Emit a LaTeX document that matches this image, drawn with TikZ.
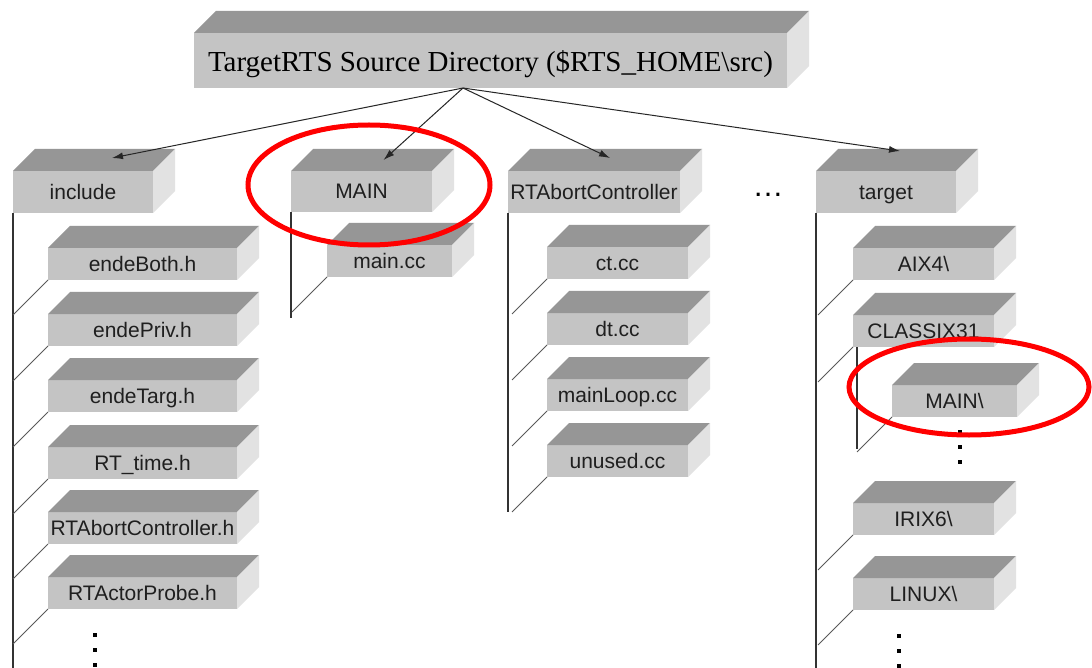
\documentclass[tikz,border=0pt]{standalone}
\usepackage{fontspec}
\setmainfont{Liberation Sans}
\newfontfamily\titolofont{Liberation Serif}
\usetikzlibrary{arrows.meta}

\definecolor{grigiofronte}{HTML}{C4C4C4}
\definecolor{grigiosopra}{HTML}{969696}
\definecolor{grigiolato}{HTML}{E2E2E2}

\tikzset{
  fronte/.style={fill=grigiofronte, inner sep=0pt, outer sep=0pt, text=black!88,
    text height=19pt, text depth=4pt, font=\fontsize{21}{21}\selectfont},
  sopra/.style={fill=grigiosopra},
  lato/.style={fill=grigiolato},
  albero/.style={draw=black!80, line width=1.1pt},
  ramo/.style={draw=black!65, line width=0.9pt},
  freccia/.style={draw=black!85, line width=1pt, -{Latex[length=11pt,width=7pt]}},
  evidenzia/.style={draw=red, line width=5pt}
}

\begin{document}
\begin{tikzpicture}[x=1pt,y=-1pt]

\fill[white] (0,0) rectangle (1092,668);
\useasboundingbox (0,0) rectangle (1092,668);

% cartella: nome, x, y, larghezza, altezza, testo
\def\cartella#1#2#3#4#5#6{
\node[fronte, minimum width=#4pt, minimum height=#5pt] (#1) at (#2+#4/2,#3+#5/2) {#6};
\fill[sopra] (#1.north west) -- ++(22,-22) -- ++(#4,0) -- (#1.north east) -- cycle;
\fill[lato] (#1.north east) -- ++(22,-22) -- ++(0,#5) -- (#1.south east) -- cycle;}

%radice
\cartella{src}{194}{33}{593}{55}{}
\node[font=\titolofont\fontsize{29}{29}\selectfont, text height=22pt, text depth=0pt] (titolo) at (src.center) {TargetRTS Source Directory (\$RTS\_HOME\textbackslash src)};
\coordinate (hub) at (463,88);

%primo livello
\cartella{inc}{13}{171}{140}{42}{include}
\cartella{main}{291}{171}{141}{41}{MAIN}
\cartella{rtac}{508}{171}{172}{42}{RTAbortController}
\cartella{tgt}{816}{171}{140}{42}{target}
\node[font=\fontsize{31}{31}\selectfont] (altri) at (768,195) {…};

\draw[freccia] (hub) -- ([xshift=29pt,yshift=13pt]inc.north);
\draw[freccia] (hub) -- ([xshift=22pt,yshift=11pt]main.north);
\draw[freccia] (hub) -- ([xshift=16pt,yshift=13pt]rtac.north);
\draw[freccia] (hub) -- ([xshift=14pt,yshift=20pt]tgt.north);

%include
\draw[albero] (inc.south west) -- ++(0,455);
\foreach \n/\y/\t in {i1/248/endeBoth.h, i2/314/endePriv.h, i3/380/endeTarg.h,
  i4/447/RT\_time.h, i5/512/RTAbortController.h, i6/577/RTActorProbe.h}{
\cartella{\n}{48}{\y}{189}{32}{\t}
\draw[ramo] (\n.south west) -- ++(-35,35);}

%MAIN
\draw[albero] (main.south west) -- ++(0,106);
\cartella{mcc}{327}{245}{125}{32}{main.cc}
\draw[ramo] (mcc.south west) -- ++(-35,35);

%RTAbortController
\draw[albero] (rtac.south west) -- ++(0,299);
\foreach \n/\y/\t in {r1/247/ct.cc, r2/313/dt.cc, r3/379/mainLoop.cc, r4/445/unused.cc}{
\cartella{\n}{547}{\y}{141}{32}{\t}
\draw[ramo] (\n.south west) -- ++(-35,35);}

%target
\draw[albero] (tgt.south west) -- ++(0,455);
\foreach \n/\y/\t in {t1/248/AIX4\textbackslash, t2/315/CLASSIX31, t3/503/IRIX6\textbackslash,
  t4/578/LINUX\textbackslash}{
\cartella{\n}{853}{\y}{141}{32}{\t}
\draw[ramo] (\n.south west) -- ++(-35,35);}
\draw[albero] ([xshift=4pt]t2.south west) -- ++(0,102);
\cartella{tmain}{892}{385}{125}{32}{MAIN\textbackslash}
\draw[ramo] (tmain.south west) -- ++(-35,35);

%puntini
\foreach \x/\y in {95/635, 960/432, 899/636}
  \foreach \k in {0,15,30}
  { \fill (\x-2,\y+\k-2) rectangle ++(4,4);}

%evidenziati
\draw[evidenzia] (369,185) ellipse [x radius=121pt, y radius=60pt];
\draw[evidenzia] (969,387) ellipse [x radius=120pt, y radius=48pt];

\end{tikzpicture}
\end{document}
